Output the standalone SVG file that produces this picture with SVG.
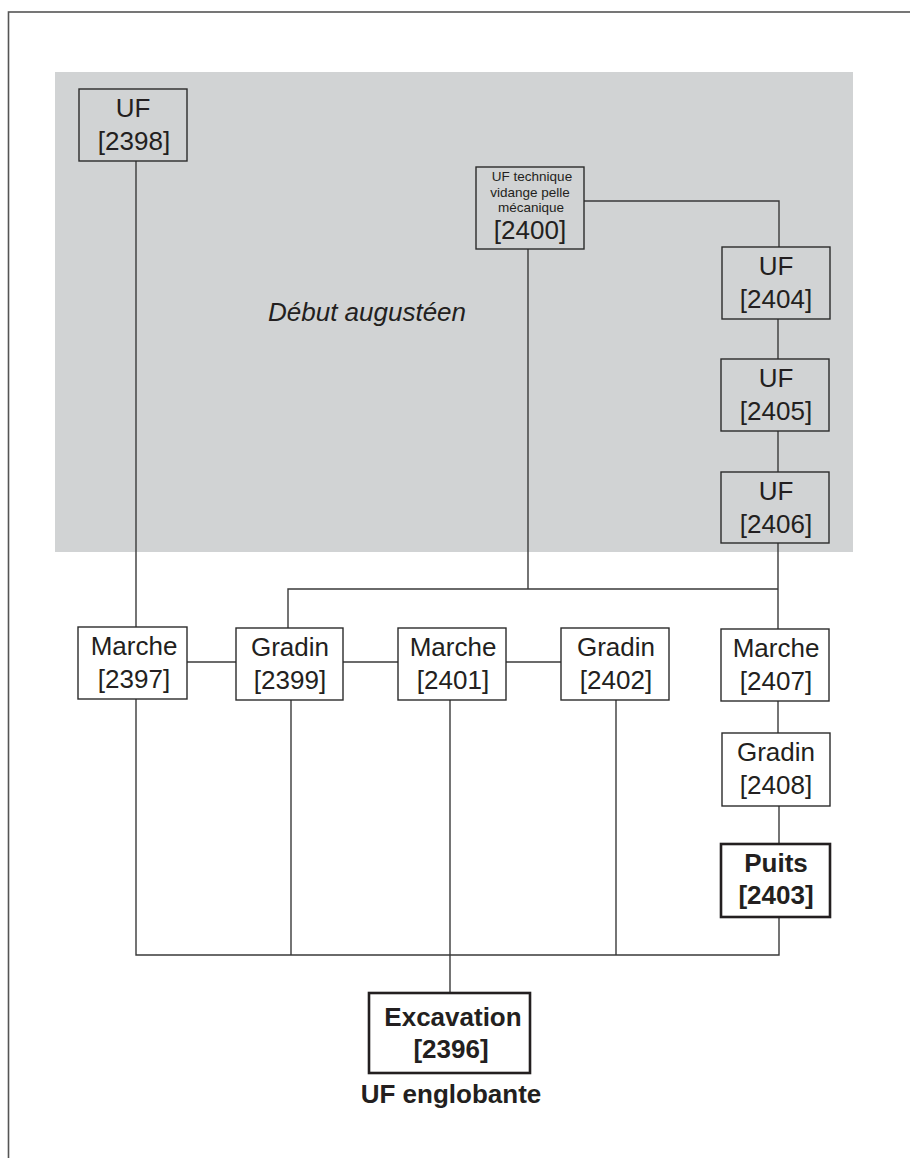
<svg xmlns="http://www.w3.org/2000/svg" width="910" height="1158" viewBox="0 0 910 1158">
<style>
  .box { fill: #ffffff; stroke: #2b2b2b; stroke-width: 1.4; }
  .gbox { fill: #d1d3d4; stroke: #2b2b2b; stroke-width: 1.4; }
  .bbox { fill: #ffffff; stroke: #231f20; stroke-width: 2.6; }
  .t { font-family: "Liberation Sans", Arial, sans-serif; font-size: 26px; fill: #231f20; text-anchor: middle; }
  .s { font-family: "Liberation Sans", Arial, sans-serif; font-size: 13.5px; fill: #231f20; text-anchor: middle; }
  .b { font-weight: bold; }
  .conn { fill: none; stroke: #3a3a3a; stroke-width: 1.4; }
</style>
<rect x="0" y="0" width="910" height="1158" fill="#ffffff"/>
<rect id="frame" x="8.5" y="12" width="920" height="1170" fill="none" stroke="#555555" stroke-width="1.6"/>
<rect id="period" x="55" y="72" width="798" height="480" fill="#d1d3d4"/>
<text class="t" x="367" y="321" font-style="italic">Début augustéen</text>
<g id="connectors">
  <path class="conn" d="M136 161 V627"/>
  <path class="conn" d="M584 201 H779 V247"/>
  <path class="conn" d="M778 319 V359"/>
  <path class="conn" d="M778 431 V472"/>
  <path class="conn" d="M528 249 V589"/>
  <path class="conn" d="M288 628 V589 H778"/>
  <path class="conn" d="M778 543 V629"/>
  <path class="conn" d="M187 662 H236"/>
  <path class="conn" d="M343 662 H398"/>
  <path class="conn" d="M506 662 H561"/>
  <path class="conn" d="M778 701 V733"/>
  <path class="conn" d="M779 806 V844"/>
  <path class="conn" d="M136 699 V955 H779 V917"/>
  <path class="conn" d="M291 700 V955"/>
  <path class="conn" d="M616 700 V955"/>
  <path class="conn" d="M450 700 V993"/>
</g>
<g id="n2398">
  <rect class="gbox" x="79" y="89" width="108" height="72"/>
  <text class="t" x="133" y="117">UF</text>
  <text class="t" x="134" y="150">[2398]</text>
</g>
<g id="n2400">
  <rect class="gbox" x="476" y="167" width="108" height="82"/>
  <text class="s" x="532" y="181">UF technique</text>
  <text class="s" x="530" y="197">vidange pelle</text>
  <text class="s" x="531" y="212">mécanique</text>
  <text class="t" x="530" y="239">[2400]</text>
</g>
<g id="n2404">
  <rect class="gbox" x="722" y="247" width="108" height="72"/>
  <text class="t" x="776" y="275">UF</text>
  <text class="t" x="776" y="308">[2404]</text>
</g>
<g id="n2405">
  <rect class="gbox" x="721" y="359" width="108" height="72"/>
  <text class="t" x="776" y="387">UF</text>
  <text class="t" x="776" y="420">[2405]</text>
</g>
<g id="n2406">
  <rect class="gbox" x="721" y="472" width="108" height="71"/>
  <text class="t" x="776" y="500">UF</text>
  <text class="t" x="776" y="533">[2406]</text>
</g>
<g id="n2397">
  <rect class="box" x="78" y="627" width="109" height="72"/>
  <text class="t" x="134" y="655">Marche</text>
  <text class="t" x="134" y="688">[2397]</text>
</g>
<g id="n2399">
  <rect class="box" x="236" y="628" width="107" height="72"/>
  <text class="t" x="290" y="656">Gradin</text>
  <text class="t" x="290" y="689">[2399]</text>
</g>
<g id="n2401">
  <rect class="box" x="398" y="628" width="108" height="72"/>
  <text class="t" x="453" y="656">Marche</text>
  <text class="t" x="453" y="689">[2401]</text>
</g>
<g id="n2402">
  <rect class="box" x="561" y="628" width="108" height="72"/>
  <text class="t" x="616" y="656">Gradin</text>
  <text class="t" x="616" y="689">[2402]</text>
</g>
<g id="n2407">
  <rect class="box" x="721" y="629" width="108" height="72"/>
  <text class="t" x="776" y="657">Marche</text>
  <text class="t" x="776" y="690">[2407]</text>
</g>
<g id="n2408">
  <rect class="box" x="722" y="733" width="108" height="73"/>
  <text class="t" x="776" y="761">Gradin</text>
  <text class="t" x="776" y="794">[2408]</text>
</g>
<g id="n2403">
  <rect class="bbox" x="721" y="844" width="109" height="73"/>
  <text class="t b" x="776" y="872">Puits</text>
  <text class="t b" x="776" y="904">[2403]</text>
</g>
<g id="n2396">
  <rect class="bbox" x="369" y="993" width="161" height="80"/>
  <text class="t b" x="453" y="1026">Excavation</text>
  <text class="t b" x="451" y="1058">[2396]</text>
  <text class="t b" x="451" y="1103">UF englobante</text>
</g>
</svg>
